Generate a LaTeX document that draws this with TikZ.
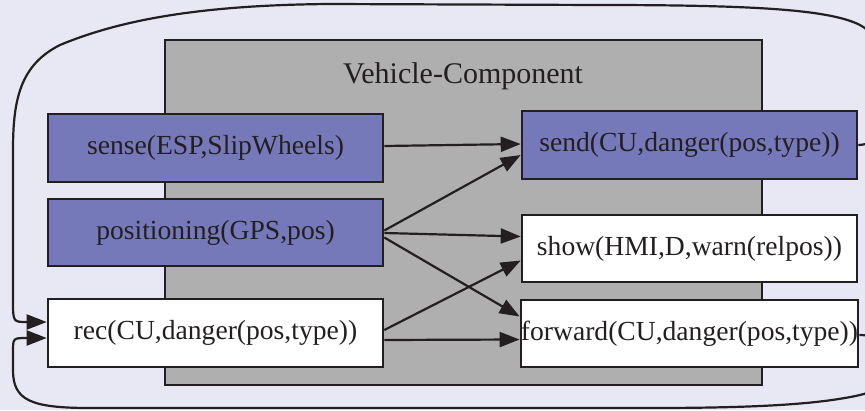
\documentclass[tikz,border=0pt]{standalone}
\usepackage{fontspec}
\setmainfont{Liberation Serif}
\usetikzlibrary{arrows.meta}

\definecolor{bgcol}{HTML}{E8E8F5}
\definecolor{compgray}{HTML}{AFAFAF}
\definecolor{actpurple}{HTML}{7579B9}
\definecolor{inkcol}{HTML}{231F20}

\tikzset{
  actbox/.style={draw=inkcol, line width=2.6pt, minimum width=335pt,
    inner sep=0pt, text=inkcol, font=\fontsize{27.6}{30}\selectfont},
  active/.style={actbox, fill=actpurple},
  passive/.style={actbox, fill=white},
  flow/.style={draw=inkcol, line width=2.2pt,
    -{Triangle[length=20pt,width=15pt]}},
}

\begin{document}
\begin{tikzpicture}[x=1pt, y=-1pt]
  % canvas
  \fill[bgcol] (0,0) rectangle (865,410);
  \useasboundingbox (0,0) rectangle (865,410);
  \clip (0,0) rectangle (865,410);

  % component container
  \draw[draw=inkcol, fill=compgray, line width=2.6pt] (165,40) rectangle (762,385);
  \node[text=inkcol, font=\fontsize{30}{33}\selectfont] (title) at (463,76) {Vehicle-Component};

  % actions
  \node[active,  minimum height=68pt] (sense) at (215.5,148)   {sense(ESP,SlipWheels)};
  \node[active,  minimum height=67pt] (posn)  at (215.5,232.5) {positioning(GPS,pos)};
  \node[passive, minimum height=68pt] (rec)   at (215.5,333)   {rec(CU,danger(pos,type))};
  \node[active,  minimum height=68pt] (send)  at (689.5,145)   {send(CU,danger(pos,type))};
  \node[passive, minimum height=67pt] (show)  at (689.5,248.5) {show(HMI,D,warn(relpos))};
  \node[passive, minimum height=67pt] (fwd)   at (689.5,333.5) {forward(CU,danger(pos,type))};

  % internal flows
  \draw[flow] ([yshift=2pt]sense.east) -- ([yshift=1pt]send.west);
  \draw[flow] ([yshift=2pt]posn.east) -- ([yshift=-10pt]send.west);
  \draw[flow] ([yshift=-0.5pt]posn.east) -- ([yshift=12pt]show.west);
  \draw[flow] ([yshift=-5pt]posn.east) -- ([yshift=17pt]fwd.west);
  \draw[flow] ([yshift=3pt]rec.east) -- ([yshift=-12pt]show.west);
  \draw[flow] ([yshift=-7pt]rec.east) -- ([yshift=-6pt]fwd.west);

  % feedback loops around the component
  \draw[flow] (send.east) .. controls (900,145) and (905,50) .. (860,25)
      .. controls (830,10) and (760,5) .. (600,5) -- (330,4)
      .. controls (200,5) and (120,20) .. (60,45)
      .. controls (20,65) and (13,100) .. (13,150) -- (13,300)
      .. controls (13,322) .. (27,322) -- ([yshift=11pt]rec.west);
  \draw[flow] ([yshift=-1.5pt]fwd.east) .. controls (900,335) and (905,385) .. (860,395)
      .. controls (820,404) and (760,408) .. (650,408) -- (90,408)
      .. controls (30,408) and (13,400) .. (13,370) -- (13,352)
      .. controls (13,338) .. (27,338) -- ([yshift=-5pt]rec.west);
\end{tikzpicture}
\end{document}
